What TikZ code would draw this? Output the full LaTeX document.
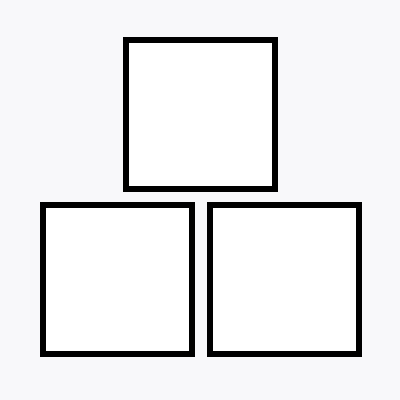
\documentclass[tikz,border=0pt]{standalone}
\usepackage{tikz}
\usetikzlibrary{positioning}
\definecolor{bgpaper}{HTML}{F8F8FA}

\begin{document}
\begin{tikzpicture}[
    x=1pt, y=-1pt,
    box/.style={draw=black, line width=6pt, fill=white, minimum size=149pt, inner sep=0pt, outer sep=0pt}
]
\fill[bgpaper] (0,0) rectangle (400,400);
\useasboundingbox (0,0) rectangle (400,400);
\node[box] (top) at (200.5,114.5) {};
\node[box] (left) at (117,279.5) {};
\node[box, right=18pt of left] (right) {};
\end{tikzpicture}
\end{document}
